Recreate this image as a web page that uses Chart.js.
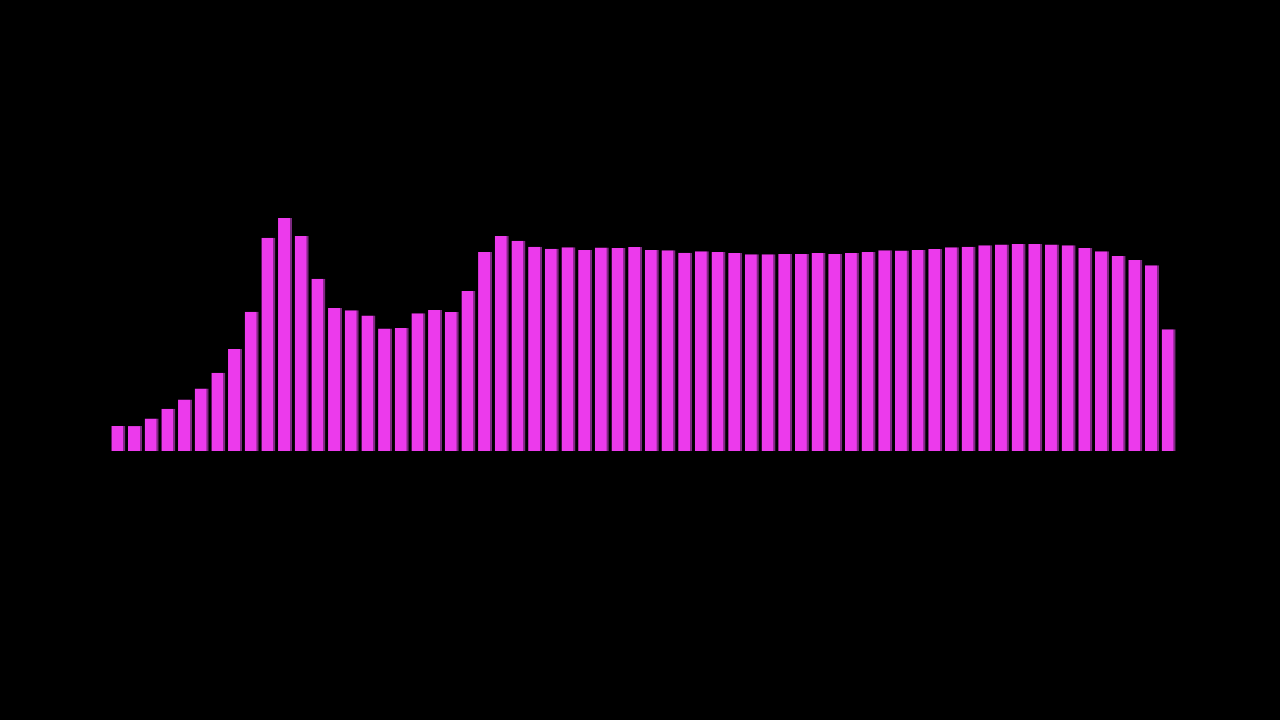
<!DOCTYPE html>
<html>
<head>
<meta charset="utf-8">
<script src="https://cdn.jsdelivr.net/npm/chart.js@4/dist/chart.umd.min.js"></script>
<style>
  html, body { margin: 0; padding: 0; background: #000; }
  canvas { display: block; }
</style>
</head>
<body>
<canvas id="barGraph" width="1280" height="720"></canvas>
<script>
// 64 bars, no axes or labels shown in the picture
const categories = [];
for (let i = 1; i <= 64; i++) categories.push(String(i));

const values = [
    8.3, 8.3, 10.8, 14.1, 17.2, 20.8, 26.1, 34.0, 46.4, 71.1,
    77.7, 71.7, 57.4, 47.7, 46.9, 45.2, 40.8, 41.0, 45.9, 47.0,
    46.3, 53.3, 66.3, 71.7, 70.1, 68.1, 67.4, 67.9, 67.0, 67.8,
    67.7, 68.0, 67.0, 66.9, 66.1, 66.6, 66.3, 66.0, 65.6, 65.6,
    65.7, 65.7, 66.0, 65.7, 66.0, 66.3, 66.9, 66.8, 67.0, 67.3,
    67.9, 68.1, 68.6, 68.8, 69.0, 69.0, 68.8, 68.6, 67.7, 66.6,
    65.0, 63.7, 61.9, 40.6
];

const yMax = 100;

window.onload = function() {
    const ctx = document.getElementById('barGraph').getContext('2d');
    new Chart(ctx, {
        type: 'bar',
        data: {
            labels: categories,
            datasets: [{
                data: values,
                backgroundColor: '#ec3aec',
                borderColor: '#7e2a82',
                borderWidth: { top: 0, left: 0, bottom: 0, right: 2 },
                borderSkipped: false,
                barPercentage: 0.84,
                categoryPercentage: 1.0
            }]
        },
        options: {
            responsive: false,
            animation: false,
            layout: {
                padding: { left: 110, right: 103, top: 151, bottom: 269 }
            },
            plugins: {
                legend: { display: false },
                tooltip: { enabled: false }
            },
            scales: {
                x: { display: false },
                y: { display: false, min: 0, max: yMax }
            }
        }
    });
};
</script>
</body>
</html>
